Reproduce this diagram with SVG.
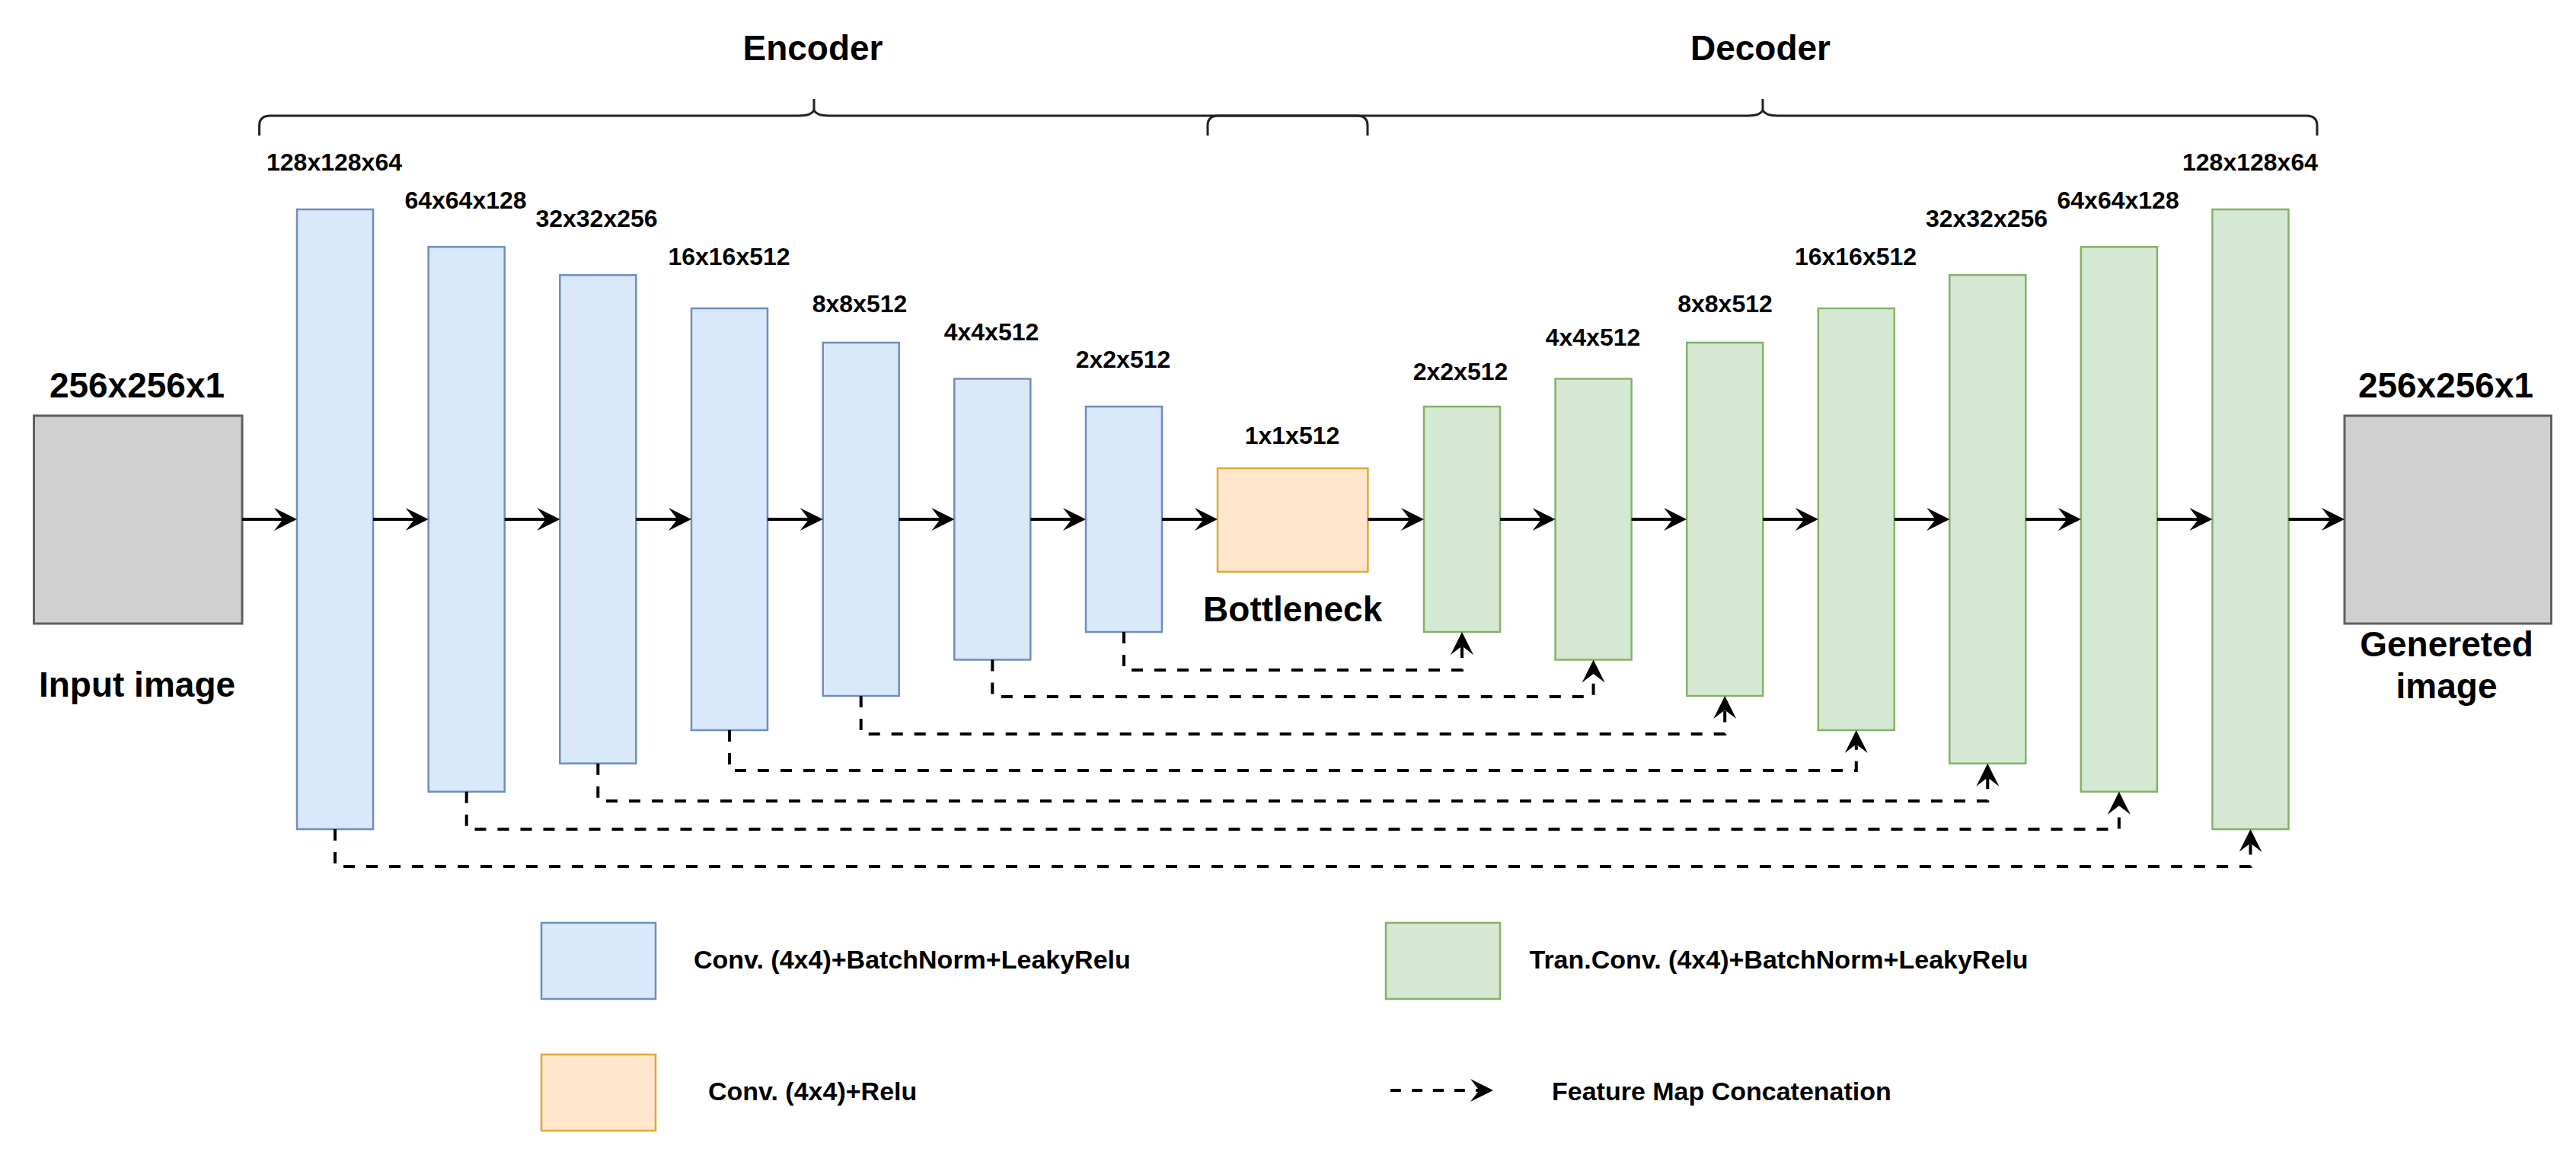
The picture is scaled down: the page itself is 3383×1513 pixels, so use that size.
<svg xmlns="http://www.w3.org/2000/svg" width="3383" height="1513" viewBox="0 0 3383 1513">
<defs>
<style>
text{font-family:"Liberation Sans",Arial,Helvetica,sans-serif;font-weight:bold;fill:#000}
.big{font-size:46px}
.dim{font-size:32px}
.leg{font-size:34px}
.enc{fill:#dae8fc;stroke:#6c8ebf;stroke-width:2.5}
.dec{fill:#d5e8d4;stroke:#82b366;stroke-width:2.5}
.bott{fill:#ffe6cc;stroke:#e0a830;stroke-width:2.5}
.img{fill:#d0d0d0;stroke:#5f5f5f;stroke-width:3}
.flow{fill:none;stroke:#000;stroke-width:4;marker-end:url(#ah)}
.skip{fill:none;stroke:#000;stroke-width:4;stroke-dasharray:15 15;marker-end:url(#ah)}
.brace{fill:none;stroke:#222;stroke-width:3}
</style>
<marker id="ah" markerUnits="userSpaceOnUse" viewBox="0 0 30 30" refX="16" refY="15" markerWidth="30" markerHeight="30" orient="auto">
<path d="M0,0 L30,15 L0,30 L11.5,15 Z" fill="#000"/>
</marker>
</defs>
<rect width="3383" height="1513" fill="#fff"/>

<g id="braces">
<path class="brace" d="M340.6,178 L340.6,165 Q340.6,152 355,152 L1050,152 Q1065,152 1069,145 L1069,130 M1069,145 Q1073,152 1088,152 L1782,152 Q1796,152 1796,165 L1796,178"/>
<path class="brace" d="M1586,178 L1586,165 Q1586,152 1600,152 L2296,152 Q2311,152 2315,145 L2315,130 M2315,145 Q2319,152 2334,152 L3029,152 Q3043,152 3043,165 L3043,178"/>
<text class="big" x="1067.5" y="78.5" text-anchor="middle">Encoder</text>
<text class="big" x="2312" y="78.5" text-anchor="middle">Decoder</text>
</g>

<g id="input">
<rect class="img" x="44.5" y="546" width="273.5" height="273"/>
<text class="big" x="180" y="522" text-anchor="middle">256x256x1</text>
<text class="big" x="180" y="915" text-anchor="middle">Input image</text>
</g>

<g id="e1"><rect class="enc" x="390" y="275" width="100" height="814"/><text class="dim" x="439" y="224" text-anchor="middle">128x128x64</text></g>
<g id="e2"><rect class="enc" x="562.7" y="324.3" width="100" height="715.5"/><text class="dim" x="611.5" y="273.6" text-anchor="middle">64x64x128</text></g>
<g id="e3"><rect class="enc" x="735.3" y="361.3" width="100" height="641.4"/><text class="dim" x="783.5" y="297.7" text-anchor="middle">32x32x256</text></g>
<g id="e4"><rect class="enc" x="908" y="405" width="100" height="554"/><text class="dim" x="957.5" y="348" text-anchor="middle">16x16x512</text></g>
<g id="e5"><rect class="enc" x="1080.7" y="450" width="100" height="464"/><text class="dim" x="1129" y="409.5" text-anchor="middle">8x8x512</text></g>
<g id="e6"><rect class="enc" x="1253.3" y="497.5" width="100" height="369"/><text class="dim" x="1302" y="447" text-anchor="middle">4x4x512</text></g>
<g id="e7"><rect class="enc" x="1426" y="534" width="100" height="296"/><text class="dim" x="1475" y="483" text-anchor="middle">2x2x512</text></g>

<g id="bottleneck">
<rect class="bott" x="1599" y="615" width="197.4" height="136"/>
<text class="dim" x="1697" y="582.6" text-anchor="middle">1x1x512</text>
<text class="big" x="1697.7" y="816" text-anchor="middle">Bottleneck</text>
</g>

<g id="d1"><rect class="dec" x="1870" y="534" width="100" height="296"/><text class="dim" x="1918" y="498.6" text-anchor="middle">2x2x512</text></g>
<g id="d2"><rect class="dec" x="2042.6" y="497.5" width="100" height="369"/><text class="dim" x="2092" y="453.5" text-anchor="middle">4x4x512</text></g>
<g id="d3"><rect class="dec" x="2215.2" y="450" width="100" height="464"/><text class="dim" x="2265.5" y="409.5" text-anchor="middle">8x8x512</text></g>
<g id="d4"><rect class="dec" x="2387.8" y="405" width="100" height="554"/><text class="dim" x="2437" y="348" text-anchor="middle">16x16x512</text></g>
<g id="d5"><rect class="dec" x="2560.3" y="361.3" width="100" height="641.4"/><text class="dim" x="2609" y="297.7" text-anchor="middle">32x32x256</text></g>
<g id="d6"><rect class="dec" x="2732.9" y="324.3" width="100" height="715.5"/><text class="dim" x="2781.6" y="273.6" text-anchor="middle">64x64x128</text></g>
<g id="d7"><rect class="dec" x="2905.5" y="275" width="100" height="814"/><text class="dim" x="2955" y="224" text-anchor="middle">128x128x64</text></g>

<g id="output">
<rect class="img" x="3079" y="546" width="271.5" height="273"/>
<text class="big" x="3212" y="522" text-anchor="middle">256x256x1</text>
<text class="big" x="3213" y="861.6" text-anchor="middle">Genereted</text>
<text class="big" x="3213" y="917" text-anchor="middle">image</text>
</g>

<g id="connectors">
<path class="flow" d="M318,682 H376"/>
<path class="flow" d="M490,682 H548.7"/>
<path class="flow" d="M662.7,682 H721.3"/>
<path class="flow" d="M835.3,682 H894"/>
<path class="flow" d="M1008,682 H1066.7"/>
<path class="flow" d="M1180.7,682 H1239.3"/>
<path class="flow" d="M1353.3,682 H1412"/>
<path class="flow" d="M1526,682 H1585"/>
<path class="flow" d="M1796.4,682 H1856"/>
<path class="flow" d="M1970,682 H2028.6"/>
<path class="flow" d="M2142.6,682 H2201.2"/>
<path class="flow" d="M2315.2,682 H2373.8"/>
<path class="flow" d="M2487.8,682 H2546.3"/>
<path class="flow" d="M2660.3,682 H2718.9"/>
<path class="flow" d="M2832.9,682 H2891.5"/>
<path class="flow" d="M3005.5,682 H3065"/>

<path class="skip" d="M1476,830 V880 H1920 V844"/>
<path class="skip" d="M1303.3,866.5 V915 H2092.6 V880.5"/>
<path class="skip" d="M1130.7,914 V964 H2265.2 V928"/>
<path class="skip" d="M958,959 V1012 H2437.8 V973"/>
<path class="skip" d="M785.3,1002.7 V1052 H2610.3 V1016.7"/>
<path class="skip" d="M612.7,1039.8 V1089 H2782.9 V1053.8"/>
<path class="skip" d="M440,1089 V1138 H2955.5 V1103"/>
</g>

<g id="legend">
<g id="leg-conv"><rect class="enc" x="711" y="1212" width="150" height="100"/><text class="leg" x="911" y="1272">Conv. (4x4)+BatchNorm+LeakyRelu</text></g>
<g id="leg-tconv"><rect class="dec" x="1820" y="1212" width="150" height="100"/><text class="leg" x="2008.5" y="1272">Tran.Conv. (4x4)+BatchNorm+LeakyRelu</text></g>
<g id="leg-relu"><rect class="bott" x="711" y="1385" width="150" height="100"/><text class="leg" x="930" y="1445">Conv. (4x4)+Relu</text></g>
<g id="leg-concat"><path fill="none" stroke="#000" stroke-width="4" stroke-dasharray="14 14" marker-end="url(#ah)" d="M1826,1432 H1947"/><text class="leg" x="2038" y="1445">Feature Map Concatenation</text></g>
</g>
</svg>
